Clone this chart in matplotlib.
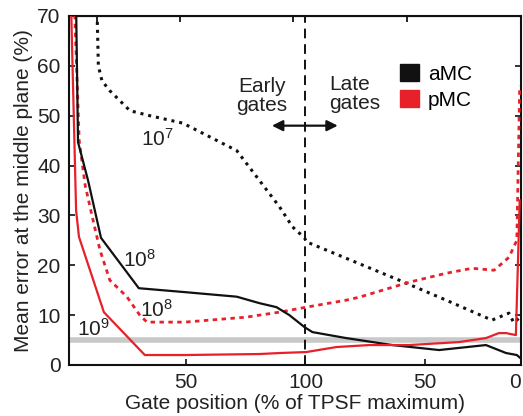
import matplotlib.pyplot as plt
from matplotlib.patches import Patch

plt.rcParams['font.family'] = ['Liberation Sans', 'DejaVu Sans']
plt.rcParams['font.size'] = 15
plt.rcParams['mathtext.fontset'] = 'custom'
plt.rcParams['mathtext.rm'] = 'Liberation Sans'
plt.rcParams['mathtext.it'] = 'Liberation Sans:italic'

# region Data
# x is a running gate axis: 0-100 = early gates (% of TPSF max, rising),
# 100-190 = late gates (falling back towards 0 % of max)
amc_1e7_x = [12.9, 13.5, 15.0, 18.3, 26.7, 35.0, 48.8, 71.3, 80.8, 89.2, 94.6, 99.6,
             100.4, 139.2, 158.8, 177.9, 185.0, 187.0, 189.5]
amc_1e7_y = [72.0, 60.0, 57.0, 55.0, 51.0, 50.0, 48.5, 43.0, 37.0, 31.7, 27.7, 25.5,
             24.7, 17.0, 13.0, 9.0, 10.4, 8.5, 9.5]

amc_1e8_x = [4.2, 5.0, 9.2, 14.6, 30.4, 50.0, 71.3, 80.8, 87.9, 93.3, 99.6, 102.9,
             117.0, 136.3, 155.8, 175.4, 183.8, 188.3, 189.5]
amc_1e8_y = [72.0, 44.7, 37.0, 25.5, 15.4, 14.6, 13.7, 12.4, 11.6, 10.0, 7.6, 6.6,
             5.4, 4.0, 3.0, 4.0, 2.4, 2.0, 1.5]

pmc_1e8_x = [3.5, 5.5, 8.0, 11.3, 14.2, 18.3, 25.4, 30.8, 33.8, 49.6, 75.4, 80.8,
             89.2, 100.4, 117.0, 122.5, 143.3, 158.8, 169.6, 178.8, 185.0, 188.3, 189.5]
pmc_1e8_y = [72.0, 45.0, 36.0, 29.0, 23.0, 17.0, 13.7, 10.0, 8.6, 8.6, 9.6, 10.0,
             10.6, 11.6, 13.0, 13.6, 16.6, 18.4, 19.4, 19.0, 21.6, 25.0, 56.0]

pmc_1e9_x = [2.1, 4.2, 5.4, 15.8, 32.9, 49.6, 80.8, 89.2, 100.4, 112.9, 126.7, 143.3,
             164.2, 175.4, 180.8, 183.8, 187.9, 189.5]
pmc_1e9_y = [72.0, 31.0, 25.7, 10.6, 2.0, 2.0, 2.2, 2.4, 2.6, 3.6, 4.0, 4.0,
             4.6, 5.4, 6.4, 6.4, 6.0, 33.0]

threshold = 5.0
split_pos = 100
x_ticks = [50, 100, 150, 190]
x_ticklabels = ['50', '100', '50', '0']
top_ticks = [12.9, 47.5, 94.6, 142.5]
y_ticks = [0, 10, 20, 30, 40, 50, 60, 70]
# endregion

black = '#111111'
red = '#e8202a'
txt_color = '#222222'

fig = plt.figure(figsize=(5.23, 4.16), dpi=100, facecolor='white')
ax = fig.add_axes([0.132, 0.1226, 0.864, 0.839])

ax.axhline(threshold, color='#c9c9c9', lw=4, zorder=1)
ax.axvline(split_pos, color=black, lw=1.4, dashes=(5, 3), zorder=2)

ax.plot(amc_1e7_x, amc_1e7_y, color=black, lw=2.2, dashes=(1, 1.6), zorder=3)
ax.plot(pmc_1e8_x, pmc_1e8_y, color=red, lw=2.0, dashes=(1.6, 1.6), zorder=3)
ax.plot(amc_1e8_x, amc_1e8_y, color=black, lw=1.6, zorder=4)
ax.plot(pmc_1e9_x, pmc_1e9_y, color=red, lw=1.6, zorder=4)

# curve annotations (photon counts)
ax.text(38.3, 45.4, r'$10^7$', ha='center', va='center', color=txt_color)
ax.text(30.8, 21.0, r'$10^8$', ha='center', va='center', color=txt_color)
ax.text(37.9, 11.0, r'$10^8$', ha='center', va='center', color=txt_color)
ax.text(11.3, 7.2, r'$10^9$', ha='center', va='center', color=txt_color)

ax.text(81.7, 54.0, 'Early\ngates', ha='center', va='center', color=txt_color,
        linespacing=1.0)
ax.text(110.0, 54.3, 'Late\ngates', ha='left', va='center', color=txt_color,
        linespacing=1.0)
ax.annotate('', xy=(86.0, 48.0), xytext=(113.5, 48.0),
            arrowprops=dict(arrowstyle='<|-|>', color=black, lw=1.6,
                            mutation_scale=16, shrinkA=0, shrinkB=0))

handles = [Patch(facecolor=black, edgecolor=black, label='aMC'),
           Patch(facecolor=red, edgecolor=red, label='pMC')]
ax.legend(handles=handles, loc='upper left', bbox_to_anchor=(0.70, 0.905),
          frameon=False, handlelength=0.9, handleheight=0.9,
          handletextpad=0.45, labelspacing=0.3, borderpad=0.2)

ax.set_xlim(1.25, 190)
ax.set_ylim(0, 70)
ax.set_xticks(x_ticks)
ax.set_xticklabels(x_ticklabels)
ax.get_xticklabels()[-1].set_horizontalalignment('right')
ax.set_yticks(y_ticks)
ax.tick_params(direction='in', length=4, width=1.2, right=True, pad=6,
               colors=black, labelcolor=txt_color)
for sp in ax.spines.values():
    sp.set_linewidth(1.5)
    sp.set_color(black)

# top ticks belong to a separate gate index, no labels
top = ax.secondary_xaxis('top')
top.set_xticks(top_ticks)
top.set_xticklabels([])
top.tick_params(direction='in', length=4, width=1.2)

ax.set_xlabel('Gate position (% of TPSF maximum)', color=txt_color, labelpad=1)
ax.set_ylabel('Mean error at the middle plane (%)', color=txt_color, labelpad=3)

fig.savefig('out.png', dpi=100)
